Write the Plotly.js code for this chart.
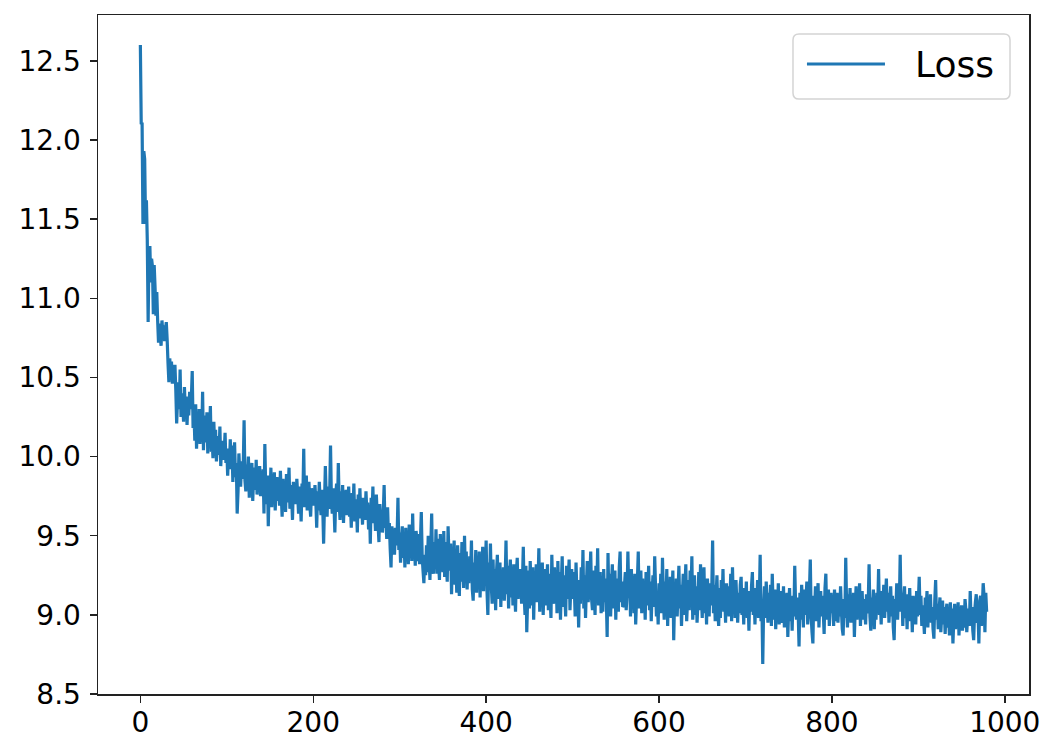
<!DOCTYPE html>
<html>
<head>
<meta charset="utf-8">
<script src="https://cdn.plot.ly/plotly-3.0.1.min.js"></script>
<style>
  body { margin: 0; background: #fff; }
  #plot { width: 1059px; height: 753px; }
</style>
</head>
<body>
<div id="plot"></div>
<script>
// loss per training step (step = index)
var loss = [
  12.60, 12.10, 12.11, 11.47, 11.93, 11.88, 11.47, 11.62, 11.37, 10.85, 11.30, 11.33, 11.10, 11.25, 11.20, 10.90, 11.21, 11.07, 10.89, 11.04,
  10.86, 10.72, 10.84, 10.76, 10.70, 10.86, 10.78, 10.83, 10.73, 10.80, 10.85, 10.74, 10.59, 10.47, 10.62, 10.53, 10.60, 10.46, 10.58, 10.51,
  10.58, 10.42, 10.21, 10.36, 10.47, 10.30, 10.55, 10.25, 10.40, 10.33, 10.22, 10.44, 10.29, 10.38, 10.20, 10.35, 10.26, 10.41, 10.30, 10.37,
  10.54, 10.18, 10.28, 10.10, 10.33, 10.05, 10.24, 10.15, 10.30, 10.08, 10.20, 10.12, 10.41, 10.04, 10.26, 10.16, 10.09, 10.28, 10.02, 10.19,
  10.14, 10.32, 10.03, 10.11, 9.99, 10.22, 10.06, 10.17, 9.97, 10.08, 10.13, 10.01, 10.19, 9.94, 10.06, 10.10, 9.98, 10.03, 10.15, 9.96,
  10.05, 9.88, 10.02, 9.92, 10.11, 9.95, 10.07, 9.84, 9.99, 10.09, 9.87, 9.96, 9.64, 9.78, 10.02, 9.90, 9.81, 9.97, 9.86, 9.93,
  10.23, 9.85, 9.78, 9.95, 9.88, 10.00, 9.74, 9.90, 9.83, 9.96, 9.72, 9.87, 9.93, 9.79, 9.98, 9.76, 9.89, 9.82, 9.94, 9.75,
  9.86, 9.78, 9.92, 9.64, 10.08, 9.80, 9.70, 9.88, 9.56, 9.83, 9.75, 9.93, 9.68, 9.85, 9.78, 9.90, 9.66, 9.81, 9.87, 9.72,
  9.84, 9.69, 9.91, 9.76, 9.62, 9.86, 9.74, 9.80, 9.65, 9.89, 9.71, 9.79, 9.93, 9.67, 9.82, 9.75, 9.60, 9.84, 9.73, 9.78,
  9.70, 9.86, 9.76, 9.64, 9.81, 9.72, 9.59, 9.83, 9.74, 10.05, 9.68, 9.79, 9.88, 9.66, 9.75, 9.84, 9.70, 9.62, 9.80, 9.73,
  9.77, 9.69, 9.82, 9.72, 9.55, 9.78, 9.66, 9.84, 9.71, 9.63, 9.79, 9.68, 9.45, 9.70, 9.94, 9.74, 9.62, 9.81, 9.67, 9.76,
  10.07, 9.73, 9.64, 9.80, 9.69, 9.52, 9.75, 9.83, 9.65, 9.96, 9.71, 9.60, 9.78, 9.67, 9.82, 9.58, 9.74, 9.69, 9.79, 9.63,
  9.72, 9.81, 9.62, 9.70, 9.55, 9.77, 9.66, 9.83, 9.59, 9.73, 9.68, 9.52, 9.76, 9.64, 9.80, 9.61, 9.71, 9.57, 9.74, 9.66,
  9.60, 9.78, 9.65, 9.71, 9.54, 9.69, 9.45, 9.74, 9.62, 9.81, 9.58, 9.67, 9.53, 9.76, 9.63, 9.57, 9.46, 9.70, 9.60, 9.66,
  9.52, 9.64, 9.82, 9.55, 9.61, 9.48, 9.68, 9.50, 9.58, 9.42, 9.30, 9.56, 9.47, 9.53, 9.38, 9.55, 9.44, 9.49, 9.74, 9.41,
  9.52, 9.33, 9.47, 9.56, 9.36, 9.50, 9.30, 9.55, 9.41, 9.48, 9.32, 9.57, 9.39, 9.51, 9.34, 9.64, 9.37, 9.49, 9.31, 9.53,
  9.45, 9.34, 9.51, 9.32, 9.47, 9.65, 9.37, 9.28, 9.20, 9.38, 9.25, 9.44, 9.27, 9.50, 9.36, 9.22, 9.43, 9.64, 9.31, 9.26,
  9.46, 9.30, 9.54, 9.26, 9.48, 9.33, 9.22, 9.51, 9.29, 9.43, 9.27, 9.53, 9.24, 9.46, 9.32, 9.21, 9.56, 9.36, 9.28, 9.45,
  9.13, 9.40, 9.25, 9.47, 9.19, 9.36, 9.14, 9.44, 9.27, 9.12, 9.39, 9.21, 9.46, 9.30, 9.17, 9.50, 9.24, 9.40, 9.16, 9.34,
  9.20, 9.37, 9.24, 9.47, 9.16, 9.09, 9.33, 9.21, 9.41, 9.14, 9.35, 9.19, 9.40, 9.11, 9.31, 9.23, 9.43, 9.15, 9.37, 9.25,
  9.47, 9.15, 9.00, 9.33, 9.20, 9.45, 9.18, 9.07, 9.35, 9.13, 9.29, 9.03, 9.27, 9.38, 9.10, 9.24, 9.33, 9.05, 9.28, 9.17,
  9.30, 9.09, 9.22, 9.47, 9.13, 9.31, 9.04, 9.25, 9.35, 9.11, 9.28, 9.06, 9.32, 9.16, 9.02, 9.27, 9.36, 9.10, 9.24, 9.12,
  9.29, 9.07, 9.21, 9.43, 9.12, 9.00, 9.31, 8.89, 9.10, 9.28, 9.04, 9.34, 9.15, 9.06, 9.30, 8.97, 9.24, 9.10, 9.32, 9.08,
  9.20, 9.42, 9.02, 9.25, 9.09, 9.33, 9.00, 9.22, 9.29, 9.06, 9.19, 9.32, 9.03, 9.26, 9.12, 8.98, 9.38, 9.15, 9.07, 9.30,
  9.12, 9.24, 9.01, 9.34, 9.09, 9.27, 8.97, 9.20, 9.37, 9.05, 9.25, 9.13, 8.99, 9.31, 9.10, 9.22, 9.35, 9.03, 9.18, 9.29,
  9.10, 9.27, 9.17, 8.99, 9.33, 9.14, 9.22, 8.92, 9.21, 9.07, 9.30, 9.12, 9.41, 9.04, 9.25, 8.98, 9.19, 9.34, 9.08, 9.16,
  9.24, 9.40, 9.10, 9.03, 9.28, 9.16, 9.00, 9.31, 9.13, 9.42, 9.06, 9.20, 9.27, 9.01, 9.17, 9.02, 9.29, 9.08, 9.23, 9.11,
  8.86, 9.39, 9.07, 9.26, 8.99, 9.19, 9.32, 9.04, 9.15, 9.28, 8.97, 9.23, 9.10, 9.02, 9.30, 9.40, 9.08, 9.21, 9.05, 9.06,
  9.18, 9.27, 9.03, 9.13, 9.40, 9.15, 9.25, 8.99, 9.29, 9.07, 9.20, 9.01, 9.26, 8.94, 9.10, 9.22, 9.40, 9.04, 9.16, 9.28,
  9.01, 9.23, 9.09, 9.19, 8.97, 9.27, 9.06, 9.15, 9.31, 9.03, 9.21, 8.96, 9.14, 9.25, 9.05, 9.37, 9.17, 8.99, 9.11, 8.94,
  9.20, 9.06, 9.26, 9.01, 9.36, 9.13, 8.97, 9.21, 9.08, 9.29, 8.93, 9.17, 9.04, 9.24, 8.98, 9.12, 9.28, 8.84, 9.10, 9.02,
  9.23, 8.99, 9.15, 9.31, 9.04, 9.19, 8.93, 9.12, 9.26, 9.00, 9.17, 9.32, 8.96, 9.09, 9.22, 9.03, 9.28, 9.13, 9.37, 8.97,
  9.11, 9.25, 9.00, 9.18, 8.95, 9.08, 9.27, 9.03, 9.32, 9.12, 8.98, 9.21, 9.30, 9.01, 9.15, 8.94, 9.23, 9.09, 8.99, 9.20,
  9.06, 9.15, 9.47, 9.01, 9.19, 8.96, 9.11, 9.25, 9.03, 8.93, 9.17, 8.98, 9.22, 9.07, 9.29, 9.02, 9.13, 8.95, 9.20, 9.05,
  9.18, 8.99, 9.10, 9.26, 8.96, 9.30, 9.04, 9.15, 8.98, 9.22, 9.08, 8.95, 9.14, 9.01, 9.19, 9.24, 9.00, 9.12, 8.94, 9.17,
  9.06, 9.21, 8.98, 9.10, 8.90, 9.15, 9.02, 9.18, 9.27, 9.00, 9.12, 8.94, 9.17, 9.04, 9.22, 8.98, 9.09, 9.38, 8.96, 9.07,
  8.69, 9.05, 9.18, 8.98, 9.21, 9.08, 8.95, 9.14, 9.02, 9.19, 8.93, 9.26, 9.05, 8.97, 9.16, 8.91, 9.11, 9.01, 9.20, 8.94,
  9.08, 9.15, 8.95, 9.03, 9.18, 8.92, 9.10, 9.00, 9.14, 8.86, 9.05, 9.17, 8.96, 9.09, 8.90, 9.12, 8.99, 9.31, 9.06, 8.97,
  9.11, 9.01, 8.80, 9.14, 8.97, 9.19, 9.05, 8.92, 9.16, 9.00, 9.09, 9.21, 8.94, 9.04, 9.15, 9.35, 8.99, 8.89, 8.82, 9.12,
  9.03, 9.18, 8.96, 9.10, 9.20, 8.92, 9.07, 9.15, 8.99, 9.12, 9.02, 8.88, 9.17, 9.26, 8.97, 9.09, 9.16, 8.93, 9.06, 9.14,
  9.01, 9.11, 8.93, 9.16, 9.04, 8.96, 9.14, 8.95, 9.09, 8.99, 9.18, 9.03, 8.91, 8.87, 9.10, 8.98, 9.36, 9.06, 8.92, 9.13,
  9.02, 9.17, 8.95, 9.09, 8.98, 9.14, 8.86, 9.05, 9.18, 8.97, 9.11, 9.00, 9.20, 8.93, 9.08, 9.15, 8.97, 9.10, 9.03, 8.94,
  9.13, 9.01, 9.07, 9.32, 8.99, 8.90, 9.11, 9.03, 9.16, 8.91, 9.08, 8.97, 9.14, 9.04, 9.29, 9.00, 9.10, 8.94, 9.15, 9.06,
  9.19, 8.98, 9.11, 9.23, 9.02, 9.14, 8.95, 9.08, 9.18, 8.99, 9.12, 8.92, 8.84, 9.10, 9.04, 9.20, 8.97, 9.15, 9.06, 9.38,
  9.02, 9.14, 8.93, 9.10, 9.18, 8.98, 9.07, 8.91, 9.13, 9.03, 9.17, 8.96, 9.09, 8.89, 9.12, 9.00, 9.06, 8.94, 9.15, 8.99,
  9.08, 9.24, 9.00, 9.12, 8.93, 9.06, 8.98, 8.88, 9.11, 9.02, 9.15, 8.92, 9.08, 8.99, 9.13, 8.95, 9.05, 8.91, 8.85, 9.09,
  9.22, 8.97, 9.07, 8.91, 9.03, 9.11, 8.89, 9.00, 9.09, 8.94, 9.05, 8.88, 9.02, 9.07, 8.92, 9.00, 8.87, 9.08, 8.95, 9.04,
  8.82, 8.97, 9.07, 8.91, 9.03, 8.94, 9.08, 8.87, 9.01, 8.93, 9.06, 8.90, 9.00, 8.92, 9.10, 9.03, 8.89, 8.98, 9.04, 8.93,
  9.15, 8.96, 9.05, 8.90, 8.84, 9.01, 9.08, 9.13, 8.95, 9.03, 8.82, 9.09, 9.12, 8.93, 9.05, 9.20, 9.12, 8.89, 9.14, 9.02
];
var steps = loss.map(function (v, i) { return i; });

var xTicks = [0, 200, 400, 600, 800, 1000];
var yTicks = [8.5, 9.0, 9.5, 10.0, 10.5, 11.0, 11.5, 12.0, 12.5];
var seriesName = 'Loss';
var blue = '#1f77b4';

var axisStyle = {
    showline: true,
    linecolor: '#222',
    linewidth: 1.5,
    mirror: true,
    showgrid: false,
    zeroline: false,
    ticks: 'outside',
    ticklen: 7,
    tickwidth: 1.5,
    tickcolor: '#222',
    tickfont: { family: 'DejaVu Sans', size: 28, color: '#000' }
};

var data = [{
    x: steps,
    y: loss,
    type: 'scatter',
    mode: 'lines',
    name: seriesName,
    line: { color: blue, width: 3.2, simplify: false }
}];

// matplotlib-style legend box (rounded frame, long line sample), paper coords
function roundedBox(x0, y0, x1, y1, rx, ry) {
    return 'M' + (x0 + rx) + ',' + y0 + ' L' + (x1 - rx) + ',' + y0 +
        ' Q' + x1 + ',' + y0 + ' ' + x1 + ',' + (y0 + ry) +
        ' L' + x1 + ',' + (y1 - ry) +
        ' Q' + x1 + ',' + y1 + ' ' + (x1 - rx) + ',' + y1 +
        ' L' + (x0 + rx) + ',' + y1 +
        ' Q' + x0 + ',' + y1 + ' ' + x0 + ',' + (y1 - ry) +
        ' L' + x0 + ',' + (y0 + ry) +
        ' Q' + x0 + ',' + y0 + ' ' + (x0 + rx) + ',' + y0 + ' Z';
}

var layout = {
    width: 1059,
    height: 753,
    margin: { l: 98, r: 30, t: 15, b: 59, pad: 0 },
    paper_bgcolor: '#fff',
    plot_bgcolor: '#fff',
    showlegend: false,
    xaxis: Object.assign({}, axisStyle, {
        range: [-49, 1028],
        tickvals: xTicks,
        ticktext: xTicks.map(String),
        ticklabelstandoff: -4
    }),
    yaxis: Object.assign({}, axisStyle, {
        range: [8.5, 12.79],
        tickvals: yTicks,
        ticktext: yTicks.map(function (v) { return v.toFixed(1); }),
        ticklabelstandoff: 3
    }),
    shapes: [
        {
            type: 'path', xref: 'paper', yref: 'paper', layer: 'above',
            path: roundedBox(0.7465, 0.8763, 0.9796, 0.972, 0.0065, 0.009),
            fillcolor: 'rgba(255,255,255,0.8)',
            line: { color: '#d4d4d4', width: 1.5 }
        },
        {
            type: 'line', xref: 'paper', yref: 'paper', layer: 'above',
            x0: 0.7615, x1: 0.8453, y0: 0.9278, y1: 0.9278,
            line: { color: blue, width: 3 }
        }
    ],
    annotations: [{
        xref: 'paper', yref: 'paper',
        x: 0.8755, y: 0.9278, xanchor: 'left', yanchor: 'middle',
        text: seriesName, showarrow: false,
        font: { family: 'DejaVu Sans', size: 36, color: '#000' }
    }]
};

Plotly.newPlot('plot', data, layout, { displayModeBar: false, staticPlot: true });
</script>
</body>
</html>
